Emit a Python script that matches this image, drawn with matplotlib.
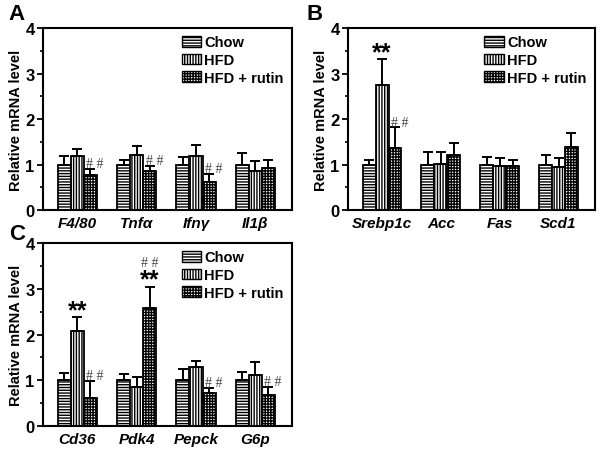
import numpy as np
import matplotlib
matplotlib.use('Agg')
import matplotlib.pyplot as plt
from matplotlib.patches import Patch

plt.rcParams['font.family'] = ['Liberation Sans', 'DejaVu Sans']
plt.rcParams['hatch.linewidth'] = 1.0

groups = ['Chow', 'HFD', 'HFD + rutin']
hatches = ['------', '||||||', '++++++']

# panel A
genes_a = ['F4/80', 'Tnfα', 'Ifnγ', 'Il1β']
chow_a = [1.0, 1.0, 1.0, 1.0]
hfd_a = [1.18, 1.22, 1.18, 0.85]
rutin_a = [0.78, 0.85, 0.62, 0.92]
chow_a_err = [0.19, 0.11, 0.17, 0.25]
hfd_a_err = [0.17, 0.19, 0.25, 0.22]
rutin_a_err = [0.12, 0.12, 0.18, 0.18]

# panel B
genes_b = ['Srebp1c', 'Acc', 'Fas', 'Scd1']
chow_b = [1.0, 1.0, 1.0, 1.0]
hfd_b = [2.75, 1.02, 0.97, 0.95]
rutin_b = [1.37, 1.22, 0.98, 1.38]
chow_b_err = [0.1, 0.27, 0.17, 0.22]
hfd_b_err = [0.57, 0.25, 0.17, 0.2]
rutin_b_err = [0.45, 0.25, 0.13, 0.32]

# panel C
genes_c = ['Cd36', 'Pdk4', 'Pepck', 'G6p']
chow_c = [1.0, 1.0, 1.0, 1.0]
hfd_c = [2.08, 0.85, 1.28, 1.12]
rutin_c = [0.62, 2.58, 0.72, 0.68]
chow_c_err = [0.17, 0.13, 0.25, 0.18]
hfd_c_err = [0.3, 0.23, 0.15, 0.27]
rutin_c_err = [0.37, 0.47, 0.12, 0.17]

# significance marks: (gene index, group index)
stars_a = []
hash_a = [(0, 2), (1, 2), (2, 2)]
stars_b = [(0, 1)]
hash_b = [(0, 2)]
stars_c = [(0, 1), (1, 2)]
hash_c = [(0, 2), (1, 2), (2, 2), (3, 2)]


def panel(ax, genes, vals, errs, stars, hashes):
    x = np.arange(1, len(genes) + 1)
    w = 0.22
    tops = []
    for k in range(3):
        xs = x + (k - 1) * w
        ax.bar(xs, vals[k], w, color='white', edgecolor='black', hatch=hatches[k],
               linewidth=1.3, label=groups[k], zorder=2)
        ax.errorbar(xs, vals[k], yerr=[np.zeros(len(genes)), errs[k]], fmt='none',
                    ecolor='black', elinewidth=1.4, capsize=3.5, capthick=1.4, zorder=3)
        tops.append(np.array(vals[k]) + np.array(errs[k]))
    for i, k in stars:
        ax.text(x[i] + (k - 1) * w, tops[k][i] + 0.0, '**', ha='center', va='baseline',
                fontsize=18, fontweight='bold')
    for i, k in hashes:
        y = tops[k][i] + 0.04
        dx = 0.08
        if (i, k) in stars:
            y = tops[k][i] + 0.44
            dx = 0.0
        ax.text(x[i] + (k - 1) * w + dx, y, '# #', ha='center', va='baseline',
                fontsize=10, family='Liberation Serif', color='#444444')
    ax.set_xlim(0.42, 4.62)
    ax.set_ylim(0, 4)
    ax.set_yticks([0, 1, 2, 3, 4])
    ax.set_yticks(np.arange(0.5, 4, 1), minor=True)
    ax.set_xticks(x)
    ax.set_xticklabels(genes, fontsize=11, fontweight='bold', fontstyle='italic')
    ax.tick_params(axis='x', length=0, pad=4)
    ax.tick_params(axis='y', which='major', length=4, width=1.3, labelsize=12, pad=2)
    ax.tick_params(axis='y', which='minor', length=2.5, width=1.2)
    for lab in ax.get_yticklabels():
        lab.set_fontweight('bold')
    for s in ax.spines.values():
        s.set_linewidth(1.5)
    ax.set_ylabel('Relative mRNA level', fontsize=10.5, fontweight='bold', labelpad=2)
    handles = [Patch(facecolor='white', edgecolor='black', hatch=hatches[k], label=groups[k])
               for k in range(3)]
    ax.legend(handles=handles, loc='upper right', frameon=False,
              prop={'weight': 'bold', 'size': 10.5}, handlelength=1.35, handleheight=0.75,
              handletextpad=0.2, labelspacing=0.25, borderaxespad=0.2,
              borderpad=0.3, bbox_to_anchor=(0.995, 1.0))


fig = plt.figure(figsize=(6.01, 4.56), dpi=100)
ax_a = fig.add_axes([0.0715, 0.537, 0.4145, 0.399])
ax_b = fig.add_axes([0.579, 0.537, 0.411, 0.399])
ax_c = fig.add_axes([0.0715, 0.0636, 0.4145, 0.401])

panel(ax_a, genes_a, [chow_a, hfd_a, rutin_a], [chow_a_err, hfd_a_err, rutin_a_err],
      stars_a, hash_a)
panel(ax_b, genes_b, [chow_b, hfd_b, rutin_b], [chow_b_err, hfd_b_err, rutin_b_err],
      stars_b, hash_b)
panel(ax_c, genes_c, [chow_c, hfd_c, rutin_c], [chow_c_err, hfd_c_err, rutin_c_err],
      stars_c, hash_c)

fig.text(8 / 601, 1 - 14 / 456, 'A', fontsize=16, fontweight='bold', ha='left', va='center')
fig.text(306 / 601, 1 - 15 / 456, 'B', fontsize=16, fontweight='bold', ha='left', va='center')
fig.text(9 / 601, 1 - 234 / 456, 'C', fontsize=16, fontweight='bold', ha='left', va='center')

fig.savefig('out.png', dpi=100)
